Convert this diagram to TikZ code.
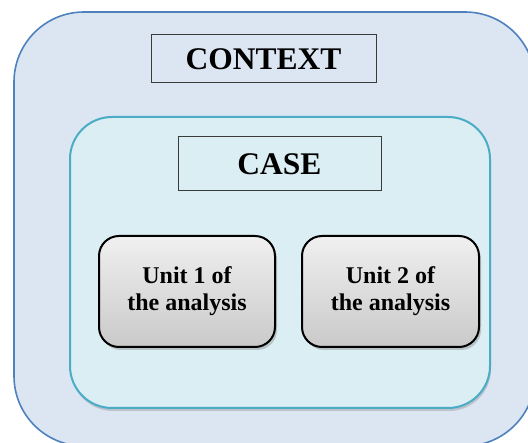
\documentclass[tikz,border=0pt]{standalone}
\usepackage{fontspec}
\setmainfont{Liberation Serif}
\usetikzlibrary{shadows}

\definecolor{ctxfill}{HTML}{DCE6F2}
\definecolor{ctxline}{HTML}{4F81BD}
\definecolor{casefill}{HTML}{DAEEF3}
\definecolor{caseline}{HTML}{4BACC6}
\definecolor{labelline}{HTML}{3A3A3A}

\tikzset{
  contextbox/.style={draw=ctxline, line width=1.6pt, fill=ctxfill,
    rounded corners=70pt, inner sep=0pt},
  casebox/.style={draw=caseline, line width=2pt, fill=casefill,
    rounded corners=42pt, inner sep=0pt,
    drop shadow={shadow xshift=1pt, shadow yshift=-3pt, opacity=0.35}},
  titlebox/.style={draw=labelline, line width=1pt, inner sep=0pt,
    font=\bfseries\fontsize{31.5}{36}\selectfont},
  unitbox/.style={draw=black, line width=2pt, rounded corners=20pt,
    top color=gray!12, bottom color=gray!42, inner sep=0pt, align=center,
    font=\bfseries\fontsize{24}{27}\selectfont,
    drop shadow={shadow xshift=2pt, shadow yshift=-3pt, opacity=0.4}},
}

\begin{document}
\begin{tikzpicture}[x={(1pt,0)}, y={(0,-1pt)}]
  \useasboundingbox (0,0) rectangle (528,443);
  \clip (0,0) rectangle (528,443);

  % outer context area (runs past the right and bottom edges)
  \node[contextbox, minimum width=521pt, minimum height=434pt] (context) at (274.5,229) {};
  \node[titlebox, minimum width=225pt, minimum height=48pt] (contextlabel) at (263.5,59) {CONTEXT};

  % case area
  \node[casebox, minimum width=420pt, minimum height=291pt] (case) at (280,262.5) {};
  \node[titlebox, minimum width=203pt, minimum height=54pt] (caselabel) at (279.5,164) {CASE};

  % units of analysis
  \node[unitbox, minimum width=176pt, minimum height=111pt] (unit1) at (187,291.5) {Unit 1 of\\the analysis};
  \node[unitbox, minimum width=177pt, minimum height=111pt] (unit2) at (390.5,291.5) {Unit 2 of\\the analysis};
\end{tikzpicture}
\end{document}
